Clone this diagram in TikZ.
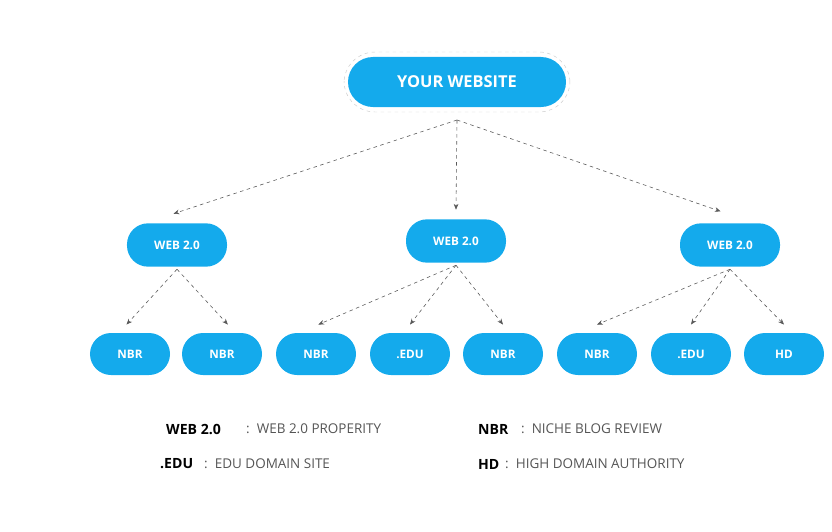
\documentclass[tikz,border=0pt]{standalone}
\usepackage{fontspec}
\setmainfont{Open Sans}
\usetikzlibrary{arrows.meta,positioning}
\definecolor{skyblue}{RGB}{20,170,236}
\definecolor{legendgray}{RGB}{85,85,85}
\begin{document}
\begin{tikzpicture}[
    x=0.03cm, y=-0.03cm,
    pill/.style={
        rectangle, rounded corners=0.63cm, fill=skyblue, text=white,
        font=\bfseries\fontsize{10}{12}\selectfont,
        minimum width=2.4cm, minimum height=1.26cm, inner sep=0pt
    },
    leaf/.style={pill, minimum width=2.4cm, minimum height=1.26cm},
    hub/.style={pill, minimum width=3cm, minimum height=1.3cm},
    arrow/.style={
        -{Stealth[length=5pt,width=4pt]}, dashed, gray!70!black, line width=0.5pt
    },
    key/.style={font=\bfseries\fontsize{12}{14}\selectfont, anchor=west, inner sep=0pt},
    desc/.style={font=\fontsize{11.5}{14}\selectfont, text=legendgray, anchor=west, inner sep=0pt}
]
\useasboundingbox (0,0) rectangle (832,532);

% Nodes
\node[pill, minimum width=6.54cm, minimum height=1.5cm, rounded corners=0.75cm,
      font=\bfseries\fontsize{14}{16}\selectfont] (site) at (457,82) {YOUR WEBSITE};
\draw[dashed, gray!40, rounded corners=0.93cm] (344,52) rectangle (570,112);

\node[hub] (webA) at (177,245) {WEB 2.0};
\node[hub] (webB) at (456,241) {WEB 2.0};
\node[hub] (webC) at (730,245) {WEB 2.0};

\node[leaf] (nbrA) at (130,354) {NBR};
\node[leaf] (nbrB) at (222,354) {NBR};
\node[leaf] (nbrC) at (316,354) {NBR};
\node[leaf] (eduA) at (410,354) {.EDU};
\node[leaf] (nbrD) at (503,354) {NBR};
\node[leaf] (nbrE) at (597,354) {NBR};
\node[leaf] (eduB) at (691,354) {.EDU};
\node[leaf] (hdA) at (784,354) {HD};

% Arrows
\coordinate (siteFoot) at (457,120);
\draw[arrow] (siteFoot) -- ([xshift=-3pt,yshift=8pt]webA.north);
\draw[arrow] (siteFoot) -- ([yshift=8pt]webB.north);
\draw[arrow] (siteFoot) -- ([xshift=-8pt,yshift=10pt]webC.north);

\draw[arrow] ([yshift=-2pt]webA.south) -- ([xshift=-3pt,yshift=7pt]nbrA.north);
\draw[arrow] ([yshift=-2pt]webA.south) -- ([xshift=5pt,yshift=7pt]nbrB.north);
\draw[arrow] ([yshift=-2pt]webB.south) -- ([xshift=2pt,yshift=7pt]nbrC.north);
\draw[arrow] ([yshift=-2pt]webB.south) -- ([yshift=7pt]eduA.north);
\draw[arrow] ([yshift=-2pt]webB.south) -- ([yshift=7pt]nbrD.north);
\draw[arrow] ([yshift=-2pt]webC.south) -- ([yshift=7pt]nbrE.north);
\draw[arrow] ([yshift=-2pt]webC.south) -- ([yshift=7pt]eduB.north);
\draw[arrow] ([yshift=-2pt]webC.south) -- ([yshift=7pt]hdA.north);

% Legend
\node[key] (kWeb) at (166,429) {WEB 2.0};
\node[desc] (dWeb) at (246,429) {:\ \ WEB 2.0 PROPERITY};
\node[key] (kNbr) at (478,429) {NBR};
\node[desc] (dNbr) at (521,429) {:\ \ NICHE BLOG REVIEW};
\node[key] (kEdu) at (160,464) {.EDU};
\node[desc] (dEdu) at (204,464) {:\ \ EDU DOMAIN SITE};
\node[key] (kHd) at (478,464) {HD};
\node[desc] (dHd) at (505,464) {:\ \ HIGH DOMAIN AUTHORITY};
\end{tikzpicture}
\end{document}
